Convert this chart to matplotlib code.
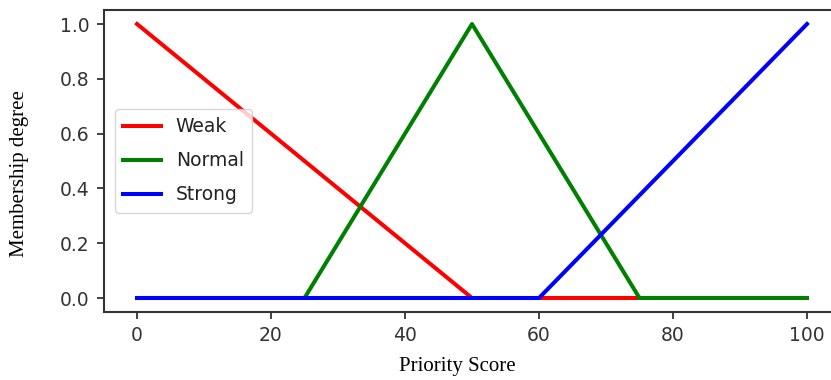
import matplotlib
matplotlib.use("Agg")
import matplotlib.pyplot as plt

# Membership functions defined by their breakpoints
weak_x = [0, 50, 100]
weak_y = [1.0, 0.0, 0.0]
normal_x = [0, 25, 50, 75, 100]
normal_y = [0.0, 0.0, 1.0, 0.0, 0.0]
strong_x = [0, 60, 100]
strong_y = [0.0, 0.0, 1.0]

labels = ["Weak", "Normal", "Strong"]
colors = ["red", "green", "blue"]

xticks = [0, 20, 40, 60, 80, 100]
yticks = [0.0, 0.2, 0.4, 0.6, 0.8, 1.0]

W, H = 831, 380
fig = plt.figure(figsize=(W / 100, H / 100), dpi=100)
left_px, right_px = 103.5, 840.5
ax = fig.add_axes([left_px / W, (H - 311.7) / H, (right_px - left_px) / W, (311.7 - 10.3) / H])

for xs, ys, lab, col in zip([weak_x, normal_x, strong_x],
                            [weak_y, normal_y, strong_y], labels, colors):
    ax.plot(xs, ys, color=col, lw=2.9, label=lab)

ax.set_xlim(-5, 105)
ax.set_ylim(-0.05, 1.05)
ax.set_xticks(xticks)
ax.set_yticks(yticks)
ax.set_yticklabels([f"{v:.1f}" for v in yticks])
ax.tick_params(labelsize=13.5, length=5, width=1.3, colors="#333333", pad=5)
for s in ax.spines.values():
    s.set_linewidth(1.5)
    s.set_color("#333333")
ax.spines["right"].set_visible(False)

leg = ax.legend(loc="center left", bbox_to_anchor=(0.0, 0.5), fontsize=13.5,
                borderaxespad=0.6, labelspacing=0.8, borderpad=0.45,
                handlelength=2.0)
for t in leg.get_texts():
    t.set_color("#222222")

fig.text(457 / W, 1 - 367 / H, "Priority Score", family="Liberation Serif",
         fontsize=15, ha="center", va="center")
fig.text(20 / W, 1 - 174 / H, "Membership degree", family="Liberation Serif",
         fontsize=15, ha="center", va="center", rotation=90)

fig.savefig("out.png", dpi=100)
